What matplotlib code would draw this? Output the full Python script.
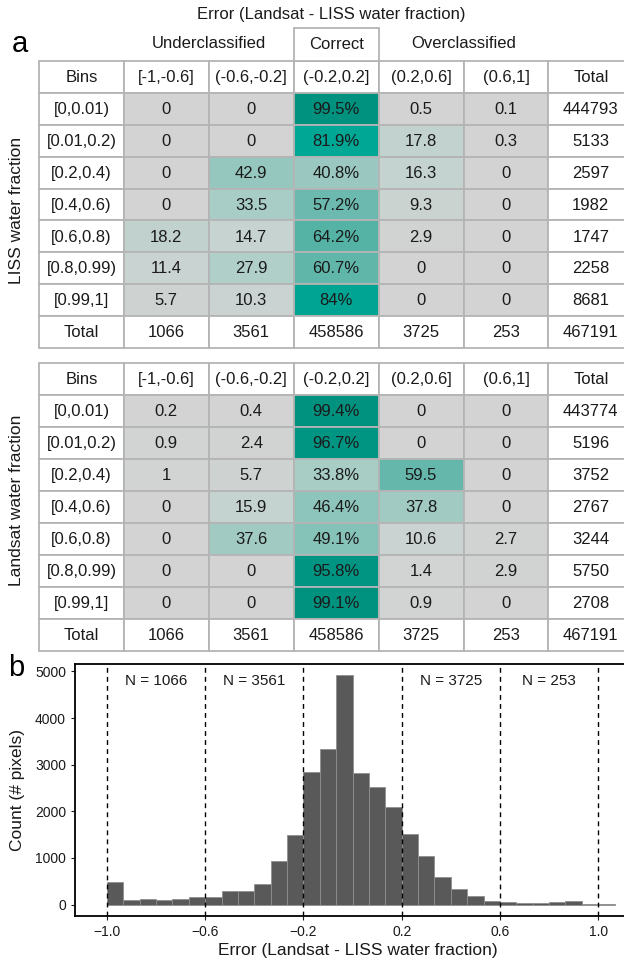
import matplotlib
matplotlib.use("Agg")
import matplotlib.pyplot as plt
from matplotlib.patches import Rectangle
from matplotlib.colors import LinearSegmentedColormap

plt.rcParams["font.family"] = ["Liberation Sans", "DejaVu Sans"]

# -------------------------------
# DATA
# -------------------------------
error_bins = ["[-1,-0.6]", "(-0.6,-0.2]", "(-0.2,0.2]", "(0.2,0.6]", "(0.6,1]"]
fraction_bins = ["[0,0.01)", "[0.01,0.2)", "[0.2,0.4)", "[0.4,0.6)",
                 "[0.6,0.8)", "[0.8,0.99)", "[0.99,1]"]

liss_pct = [
    [0, 0, 99.5, 0.5, 0.1],
    [0, 0, 81.9, 17.8, 0.3],
    [0, 42.9, 40.8, 16.3, 0],
    [0, 33.5, 57.2, 9.3, 0],
    [18.2, 14.7, 64.2, 2.9, 0],
    [11.4, 27.9, 60.7, 0, 0],
    [5.7, 10.3, 84, 0, 0],
]
liss_row_total = [444793, 5133, 2597, 1982, 1747, 2258, 8681]

landsat_pct = [
    [0.2, 0.4, 99.4, 0, 0],
    [0.9, 2.4, 96.7, 0, 0],
    [1, 5.7, 33.8, 59.5, 0],
    [0, 15.9, 46.4, 37.8, 0],
    [0, 37.6, 49.1, 10.6, 2.7],
    [0, 0, 95.8, 1.4, 2.9],
    [0, 0, 99.1, 0.9, 0],
]
landsat_row_total = [443774, 5196, 3752, 2767, 3244, 5750, 2708]

col_total = [1066, 3561, 458586, 3725, 253]
grand_total = 467191

# histogram (bin width 1/15, starting at -1)
hist_start = -1.0
hist_width = 1 / 15
hist_counts = [490, 100, 120, 95, 110, 170,
               155, 280, 295, 430, 940, 1500,
               2836, 3336, 4914, 2814, 2521, 2093,
               1520, 1050, 585, 335, 175, 85,
               45, 32, 40, 58, 85, 18, 7]
class_breaks = [-1.0, -0.6, -0.2, 0.2, 0.6, 1.0]
n_labels = {-0.8: 1066, -0.4: 3561, 0.4: 3725, 0.8: 253}

# -------------------------------
# STYLE
# -------------------------------
W, H = 624, 961
GRID = "#b4b4b4"
cmap = LinearSegmentedColormap.from_list("teal", [
    (0.00, "#d3d3d3"), (0.15, "#c6d3d0"), (0.33, "#a8cdc6"),
    (0.43, "#96c7be"), (0.49, "#85c2b8"), (0.58, "#6ab9ae"),
    (0.64, "#56b3a6"), (0.82, "#00a795"), (1.00, "#00907e"),
])

fig = plt.figure(figsize=(W / 100, H / 100), dpi=100)


def px_axes(x0, y0, x1, y1):
    return fig.add_axes([x0 / W, 1 - y1 / H, (x1 - x0) / W, (y1 - y0) / H])


def fmt(v):
    return f"{v:g}"


def draw_table(ax, pct, row_total, ylabel, ylabel_y):
    ax.set_xlim(0, 7)
    ax.set_ylim(9, 0)
    ax.axis("off")
    n_rows = len(pct) + 2
    for i in range(n_rows):
        for j in range(7):
            face = "white"
            txt = ""
            if i == 0:
                txt = "Bins" if j == 0 else (error_bins[j - 1] if j < 6 else "Total")
            elif i == n_rows - 1:
                txt = "Total" if j == 0 else (str(col_total[j - 1]) if j < 6 else str(grand_total))
            elif j == 0:
                txt = fraction_bins[i - 1]
            elif j == 6:
                txt = str(row_total[i - 1])
            else:
                v = pct[i - 1][j - 1]
                face = cmap(v / 100)
                txt = fmt(v) + ("%" if j == 3 else "")
            ax.add_patch(Rectangle((j, i), 1, 1, facecolor=face, edgecolor=GRID,
                                   linewidth=1.3, clip_on=False))
            ax.text(j + 0.5, i + 0.52, txt, ha="center", va="center", fontsize=12,
                    color="#1a1a1a", clip_on=False)
    fig.text(17 / W, 1 - ylabel_y / H, ylabel, rotation=90, ha="center", va="center",
             fontsize=12.5, color="#1a1a1a")


# -------------------------------
# TABLE 1 (LISS)
# -------------------------------
col_w = 84.9
ax1 = px_axes(39, 61, 39 + 7 * col_w, 348)
draw_table(ax1, liss_pct, liss_row_total, "LISS water fraction", 210)
ax1.add_patch(Rectangle((3, -1.04), 1, 1.04, facecolor="white", edgecolor=GRID,
                        linewidth=1.3, clip_on=False))
ax1.text(3.5, -0.52, "Correct", ha="center", va="center", fontsize=12, color="#1a1a1a")
ax1.text(2.0, -0.55, "Underclassified", ha="center", va="center", fontsize=12, color="#1a1a1a")
ax1.text(5.0, -0.55, "Overclassified", ha="center", va="center", fontsize=12, color="#1a1a1a")
fig.text(331 / W, 1 - 14 / H, "Error (Landsat - LISS water fraction)", ha="center",
         va="center", fontsize=12, color="#1a1a1a")
fig.text(20 / W, 1 - 44 / H, "a", ha="center", va="center", fontsize=21)

# -------------------------------
# TABLE 2 (LANDSAT)
# -------------------------------
ax2 = px_axes(39, 363, 39 + 7 * col_w, 651)
draw_table(ax2, landsat_pct, landsat_row_total, "Landsat water fraction", 500)

# -------------------------------
# HISTOGRAM
# -------------------------------
ax3 = px_axes(75, 664, 640, 916)
lefts = [hist_start + k * hist_width for k in range(len(hist_counts))]
ax3.bar(lefts, hist_counts, width=hist_width, align="edge", color="#595959",
        edgecolor="#8f8f8f", linewidth=0.6, zorder=2)
for b in class_breaks:
    ax3.axvline(b, color="black", linestyle=(0, (3.5, 3)), linewidth=1.0, zorder=3)
for x, n in n_labels.items():
    ax3.text(x, 4800, f"N = {n}", ha="center", va="center", fontsize=11, color="#1a1a1a")
ax3.set_xlim(-1.13, 1.17)
ax3.set_ylim(-246, 5160)
ax3.set_xticks(class_breaks)
ax3.set_xticklabels(["\u22121.0", "\u22120.6", "\u22120.2", "0.2", "0.6", "1.0"])
ax3.set_yticks([0, 1000, 2000, 3000, 4000, 5000])
ax3.tick_params(labelsize=10, colors="#1a1a1a", length=3, width=0.8)
for s in ax3.spines.values():
    s.set_linewidth(1.3)
    s.set_color("black")
ax3.spines["right"].set_visible(False)
ax3.set_xlabel("Error (Landsat - LISS water fraction)", fontsize=12.5, color="#1a1a1a", labelpad=3)
fig.text(18 / W, 1 - 790 / H, "Count (# pixels)", rotation=90, ha="center", va="center",
         fontsize=12.5, color="#1a1a1a")
fig.text(16 / W, 1 - 668 / H, "b", ha="center", va="center", fontsize=21)

fig.savefig("out.png", dpi=100)
